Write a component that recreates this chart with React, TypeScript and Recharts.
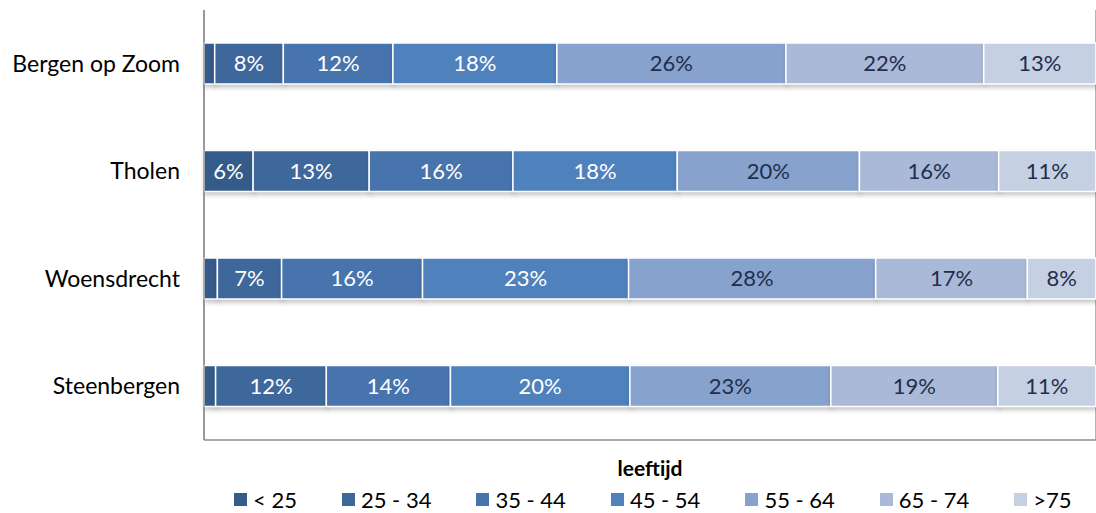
import React from "react";
import {
  BarChart,
  Bar,
  XAxis,
  YAxis,
  CartesianGrid,
  LabelList,
  Legend,
} from "recharts";

// ── Data ──────────────────────────────────────────────────────────────────

const gemeenten = ["Bergen op Zoom", "Tholen", "Woensdrecht", "Steenbergen"];

const ageGroups = ["< 25", "25 - 34", "35 - 44", "45 - 54", "55 - 64", "65 - 74", ">75"];

// one array per age group, in the order of `gemeenten`
const lt25 = [1.2, 5.5, 1.5, 1.3];
const g25_34 = [7.7, 13.0, 7.2, 12.4];
const g35_44 = [12.3, 16.1, 15.8, 13.9];
const g45_54 = [18.4, 18.4, 23.1, 20.1];
const g55_64 = [25.7, 20.4, 27.7, 22.5];
const g65_74 = [22.2, 15.6, 17.0, 18.7];
const gt75 = [12.6, 10.9, 7.7, 11.0];

const seriesValues = [lt25, g25_34, g35_44, g45_54, g55_64, g65_74, gt75];

const xTicks = [0, 0.1, 0.2, 0.3, 0.4, 0.5, 0.6, 0.7, 0.8, 0.9, 1];

// ── Style ─────────────────────────────────────────────────────────────────

const colors = ["#355b8a", "#3e679b", "#4774ad", "#4f81bd", "#87a2cc", "#aab9d7", "#c6d0e3"];
const labelColors = ["#ffffff", "#ffffff", "#ffffff", "#ffffff", "#1f2e4d", "#1f2e4d", "#1f2e4d"];
const FONT = "Lato, 'Open Sans', sans-serif";

const chartData = gemeenten.map((name, i) => {
  const row: Record<string, string | number> = { name };
  ageGroups.forEach((g, k) => {
    row[`s${k}`] = seriesValues[k][i];
  });
  return row;
});

function LegendContent() {
  return (
    <div
      style={{
        display: "flex",
        justifyContent: "flex-start",
        gap: 45,
        fontFamily: FONT,
        fontSize: 22,
        color: "#000",
        paddingLeft: 234,
        paddingTop: 6,
      }}
    >
      {ageGroups.map((g, k) => (
        <span key={g} style={{ display: "flex", alignItems: "center" }}>
          <span
            style={{
              display: "inline-block",
              width: 13,
              height: 13,
              background: colors[k],
              marginRight: 6,
            }}
          />
          {g}
        </span>
      ))}
    </div>
  );
}

export default function App() {
  return (
    <div style={{ position: "absolute", left: 0, top: 0, background: "#fff" }}>
      <style>{`.recharts-bar-rectangles { filter: drop-shadow(1px 3px 2px rgba(0,0,0,0.22)); }`}</style>
      <BarChart
        width={1097}
        height={513}
        data={chartData}
        layout="vertical"
        stackOffset="expand"
        margin={{ top: 10, right: 1, bottom: 0, left: 0 }}
      >
        <CartesianGrid vertical horizontal={false} stroke="#8c8c8c" strokeWidth={1.3} />
        <XAxis
          type="number"
          domain={[0, 1]}
          ticks={xTicks}
          tick={false}
          tickLine={false}
          axisLine={{ stroke: "#8c8c8c", strokeWidth: 1.3 }}
          height={40}
          label={{
            value: "leeftijd",
            position: "insideBottom",
            offset: 4,
            style: { fontFamily: FONT, fontSize: 21, fontWeight: 700, fill: "#000" },
          }}
        />
        <YAxis
          type="category"
          dataKey="name"
          width={204}
          tickLine={false}
          axisLine={{ stroke: "#8c8c8c", strokeWidth: 1.3 }}
          tick={{ fontFamily: FONT, fontSize: 23, fill: "#000", dx: -16 }}
        />
        <Legend verticalAlign="bottom" height={33} content={<LegendContent />} />
        {ageGroups.map((g, k) => (
          <Bar
            key={g}
            dataKey={`s${k}`}
            name={g}
            stackId="a"
            fill={colors[k]}
            stroke="#ffffff"
            strokeWidth={1.5}
            barSize={41}
            isAnimationActive={false}
          >
            <LabelList
              dataKey={`s${k}`}
              position="center"
              formatter={(v: number) => (v >= 3 ? `${Math.round(v)}%` : "")}
              style={{ fontFamily: FONT, fontSize: 22, fill: labelColors[k] }}
            />
          </Bar>
        ))}
      </BarChart>
    </div>
  );
}
